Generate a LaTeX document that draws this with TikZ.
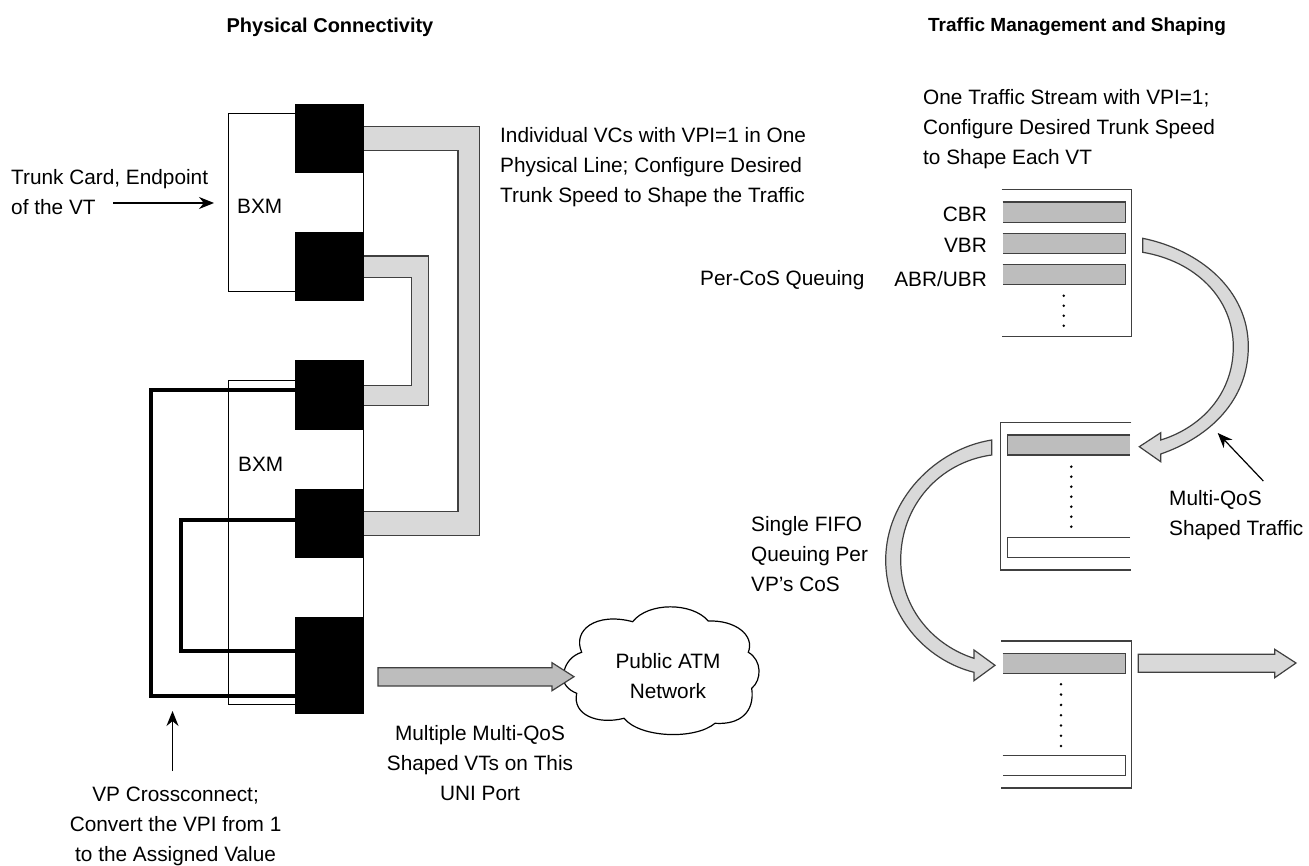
\documentclass[tikz,border=0pt]{standalone}
\usepackage{fontspec}
\setmainfont{Liberation Sans}
\usetikzlibrary{arrows.meta}
\definecolor{pipegray}{HTML}{D9D9D9}
\definecolor{bargray}{HTML}{BDBDBD}
\definecolor{edgegray}{HTML}{404040}
\tikzset{
  blackbox/.style={draw=none,fill=black,inner sep=0pt,minimum width=69pt},
  thinframe/.style={draw=black,line width=1.2pt},
  thickwire/.style={draw=black,line width=4pt,line join=miter},
  pipe/.style={draw=edgegray,line width=1.2pt,fill=pipegray,line join=miter},
  solidarrow/.style={draw=edgegray,line width=1.2pt,fill=bargray,line join=miter},
  barline/.style={draw=edgegray,line width=1.5pt},
  thinarrow/.style={draw=black,line width=1.2pt,-{Stealth[length=15pt,width=12pt]}},
  lbl/.style={inner sep=0pt,font=\fontsize{20.8}{30}\selectfont,align=left},
  clbl/.style={inner sep=0pt,font=\fontsize{20.8}{30}\selectfont,align=center},
  ttl/.style={inner sep=0pt,font=\fontsize{20}{30}\selectfont\bfseries,align=center},
  ttlb/.style={inner sep=0pt,font=\fontsize{19}{30}\selectfont\bfseries,align=center},
  dotmark/.style={fill=black,draw=none},
}
\begin{document}
\begin{tikzpicture}[x=1pt,y=-1pt]
\useasboundingbox[fill=white] (0,0) rectangle (1309,866);
% titles
\node[ttl] (t1) at (330,27) {Physical Connectivity};
\node[ttlb] (t2) at (1077,27) {Traffic Management and Shaping};
% BXM frames
\draw[thinframe] (228.7,113.7) rectangle (363.3,291.3);
\draw[thinframe] (228.7,380.7) rectangle (363.3,704.7);
\node[blackbox,minimum height=69pt] (b1) at (329.8,139) {};
\node[blackbox,minimum height=69pt] (b2) at (329.8,267) {};
\node[blackbox,minimum height=69pt] (b3) at (329.8,395) {};
\node[blackbox,minimum height=69pt] (b4) at (329.8,523) {};
\node[blackbox,minimum height=97pt] (b5) at (329.8,665) {};
% pipes
\draw[pipe] ([yshift=12.3pt]b1.center) -- (479.3,126.7) -- (479.3,535.7) -- ([yshift=-12.7pt]b4.center) -- ([yshift=11.7pt]b4.center) -- (458,511.3) -- (458,150.7) -- ([yshift=-11.7pt]b1.center) -- cycle;
\draw[pipe] ([yshift=11pt]b2.center) -- (428.3,256) -- (428.3,405.7) -- ([yshift=-10.7pt]b3.center) -- ([yshift=9.7pt]b3.center) -- (411.7,385.3) -- (411.7,277.3) -- ([yshift=-10.3pt]b2.center) -- cycle;
% thick wires
\draw[thickwire] ([yshift=5pt]b3.center) -- (150.6,390) -- (150.6,696) -- ([yshift=-31pt]b5.center);
\draw[thickwire] ([yshift=2.7pt]b4.center) -- (180.6,520.3) -- (180.6,650.7) -- ([yshift=14.3pt]b5.center);
% black boxes on top
\foreach \yy/\hh in {139/69,267/69,395/69,523/69,665/97}
  \fill[black] (295.3,\yy-\hh/2) rectangle (364.3,\yy+\hh/2);
% left labels
\node[lbl] (l1) at (11,192) [anchor=west] {Trunk Card, Endpoint\\of the VT};
\coordinate (a1s) at (113,203);
\coordinate (a1e) at (214,203);
\draw[thinarrow] (a1s) -- (a1e);
\node[lbl] (bxm1) at (237,206) [anchor=west] {BXM};
\node[lbl] (bxm2) at (238,464) [anchor=west] {BXM};
\node[lbl] (l2) at (500,167) [anchor=west] {Individual VCs with VPI=1 in One\\Physical Line; Configure Desired\\Trunk Speed to Shape the Traffic};
\node[clbl] (l3) at (175.6,826) {VP Crossconnect;\\Convert the VPI from 1\\to the Assigned Value};
\coordinate (a3s) at (172.5,771);
\coordinate (a3e) at (172.5,711);
\draw[thinarrow] (a3s) -- (a3e);
\node[clbl] (l4) at (480,763) {Multiple Multi-QoS\\Shaped VTs on This\\UNI Port};
% cloud
\draw[draw=black,line width=1.2pt,fill=white] (563.3,675)
 .. controls (565,662) and (573,655) .. (581.7,652.3)
 .. controls (572,630) and (596,612) .. (632.7,621.7)
 .. controls (648,602) and (692,602) .. (708.3,621)
 .. controls (735,620) and (755,635) .. (748.3,652.3)
 .. controls (762,660) and (762,680) .. (751.7,688.3)
 .. controls (755,712) and (740,725) .. (715,723.3)
 .. controls (695,740) and (640,738) .. (624,718.3)
 .. controls (598,725) and (572,715) .. (576.7,693.3)
 .. controls (568,690) and (562,683) .. cycle;
\node[clbl] (cloudlbl) at (668,676) {Public ATM\\Network};
\draw[solidarrow] (378,667.7) -- (552,667.7) -- (552,662.7) -- (574,676.7) -- (552,690.7) -- (552,686) -- (378,686) -- cycle;
% right labels
\node[lbl] (r1) at (923,129) [anchor=west] {One Traffic Stream with VPI=1;\\Configure Desired Trunk Speed\\to Shape Each VT};
\node[lbl] (q) at (700,280) [anchor=west] {Per-CoS Queuing};
\node[lbl] (cbr) at (987,214) [anchor=east] {CBR};
\node[lbl] (vbr) at (987,245) [anchor=east] {VBR};
\node[lbl] (abr) at (987,279) [anchor=east] {ABR/UBR};
\node[lbl] (r2) at (751,554) [anchor=west] {Single FIFO\\Queuing Per\\VP's CoS};
\node[lbl] (r3) at (1169,515) [anchor=west] {Multi-QoS\\Shaped Traffic};
% queue 1
\draw[thinframe,draw=edgegray] (1001.7,189.7) -- (1131.7,189.7) -- (1131.7,336.7) -- (1001.7,336.7);
\foreach \ya/\yb in {202/222.3,233.3/253.3,264.3/284.3}{
  \fill[bargray] (1002.7,\ya) rectangle (1125.3,\yb);
  \draw[barline] (1002.7,\ya) -- (1125.3,\ya) -- (1125.3,\yb) -- (1002.7,\yb);
}
\foreach \yy in {295.7,305.7,315.7,325.7} \fill[dotmark] (1063.7,\yy) circle (1.4pt);
% queue 2
\draw[thinframe,draw=edgegray] (1131.3,422.7) -- (1000.7,422.7) -- (1000.7,570) -- (1131.3,570);
\fill[bargray] (1007.3,435) rectangle (1130,455);
\draw[barline] (1130,435) -- (1007.3,435) -- (1007.3,455) -- (1130,455);
\draw[barline] (1130,537.3) -- (1007.3,537.3) -- (1007.3,557.3) -- (1130,557.3);
\foreach \yy in {466.7,476.7,486.7,496.7,506.7,516.7,526.7} \fill[dotmark] (1071.3,\yy) circle (1.4pt);
% queue 3
\draw[thinframe,draw=edgegray] (1001,641) -- (1131.7,641) -- (1131.7,788) -- (1001,788);
\fill[bargray] (1002.7,653.7) rectangle (1125.3,673.3);
\draw[barline] (1002.7,653.7) -- (1125.3,653.7) -- (1125.3,673.3) -- (1002.7,673.3);
\draw[barline] (1002.7,755.3) -- (1125.3,755.3) -- (1125.3,775.3) -- (1002.7,775.3);
\foreach \yy in {684.3,694.6,704.9,715.2,725.5,735.8,746} \fill[dotmark] (1061,\yy) circle (1.4pt);
% curved arrows
\draw[pipe] (1142.7,238.3) .. controls (1200,250) and (1248.3,290) .. (1248.3,346.7)
  .. controls (1248.3,400) and (1210,437) .. (1160.7,454) -- (1160.7,461.7) -- (1139.3,446.7) -- (1160.7,432.7) -- (1160.7,440)
  .. controls (1200,428) and (1233.3,395) .. (1233.3,346.7)
  .. controls (1233.3,298) and (1195,261) .. (1142.7,252.3) -- cycle;
\draw[pipe] (991.7,440) .. controls (935,449) and (885.7,500) .. (885.7,560)
  .. controls (885.7,615) and (925,660) .. (974,672.3) -- (974,680.7) -- (995,665.3) -- (974,650) -- (974,658.3)
  .. controls (935,646) and (900.7,610) .. (900.7,560)
  .. controls (900.7,505) and (940,462) .. (991.7,455) -- cycle;
\draw[pipe] (1138.3,654.3) -- (1274.7,654.3) -- (1274.7,649.3) -- (1296,663) -- (1274.7,677.7) -- (1274.7,672.3) -- (1138.3,672.3) -- cycle;
\coordinate (a4s) at (1263.3,481);
\coordinate (a4e) at (1217.7,433);
\draw[thinarrow] (a4s) -- (a4e);
\end{tikzpicture}
\end{document}
